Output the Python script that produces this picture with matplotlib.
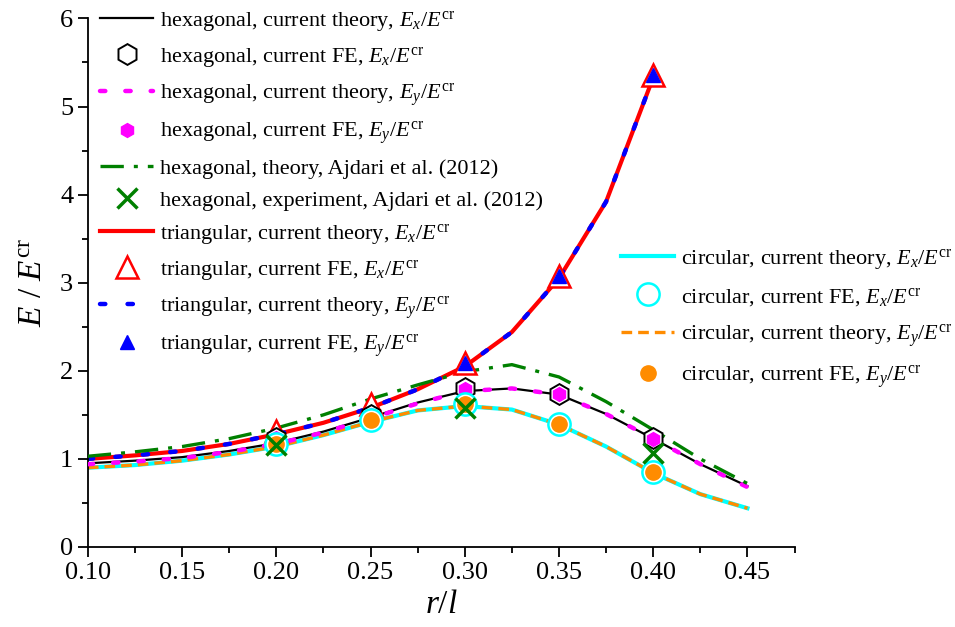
import matplotlib
matplotlib.use("Agg")
import matplotlib.pyplot as plt
import numpy as np

plt.rcParams['font.family'] = ['Liberation Serif', 'DejaVu Serif']
plt.rcParams['mathtext.fontset'] = 'custom'
plt.rcParams['mathtext.rm'] = 'Liberation Serif'
plt.rcParams['mathtext.it'] = 'Liberation Serif:italic'

# r/l grid of the theory curves
r_th = [0.10, 0.125, 0.15, 0.175, 0.20, 0.225, 0.25, 0.275, 0.30, 0.325, 0.35, 0.375, 0.40, 0.425, 0.45]
r_tri = r_th[:13]
r_fe = [0.20, 0.25, 0.30, 0.35, 0.40]

# hexagonal
hex_th_x = [0.95, 0.98, 1.02, 1.09, 1.18, 1.31, 1.47, 1.64, 1.77, 1.80, 1.73, 1.51, 1.23, 0.94, 0.69]
hex_th_y = [0.94, 0.97, 1.01, 1.08, 1.17, 1.30, 1.46, 1.63, 1.77, 1.80, 1.73, 1.51, 1.23, 0.94, 0.68]
hex_fe_x = [1.24, 1.50, 1.80, 1.74, 1.24]
hex_fe_y = [1.24, 1.50, 1.79, 1.74, 1.23]
ajdari_th = [1.03, 1.08, 1.14, 1.23, 1.35, 1.50, 1.68, 1.84, 1.99, 2.07, 1.93, 1.65, 1.33, 1.00, 0.72]
r_exp = [0.20, 0.30, 0.40]
ajdari_exp = [1.16, 1.58, 1.07]

# triangular
tri_th_x = [1.00, 1.04, 1.09, 1.17, 1.28, 1.41, 1.58, 1.79, 2.05, 2.44, 3.05, 3.92, 5.33]
tri_th_y = [1.00, 1.04, 1.09, 1.17, 1.28, 1.41, 1.58, 1.79, 2.05, 2.44, 3.05, 3.92, 5.33]
tri_fe_x = [1.32, 1.62, 2.09, 3.08, 5.36]
r_fe_tri_y = [0.30, 0.35, 0.40]
tri_fe_y = [2.09, 3.08, 5.36]

# circular
circ_th_x = [0.90, 0.93, 0.98, 1.05, 1.14, 1.27, 1.42, 1.55, 1.60, 1.56, 1.39, 1.14, 0.84, 0.60, 0.44]
circ_th_y = [0.90, 0.93, 0.98, 1.05, 1.14, 1.27, 1.42, 1.55, 1.60, 1.56, 1.39, 1.14, 0.84, 0.60, 0.44]
circ_fe_x = [1.17, 1.44, 1.62, 1.40, 0.85]
circ_fe_y = [1.17, 1.44, 1.62, 1.40, 0.85]

EX = r'$E_x/E^{\mathrm{cr}}$'
EY = r'$E_y/E^{\mathrm{cr}}$'

fig = plt.figure(figsize=(9.55, 6.27), dpi=100)
ax = fig.add_axes([0.092, 0.1276, 0.740, 0.843])

h = []
h += ax.plot(r_th, hex_th_x, color='black', lw=1.6, zorder=3,
             label='hexagonal, current theory, ' + EX)
h += ax.plot(r_fe, hex_fe_x, ls='none', marker='h', ms=15, mfc='white', mec='black', mew=1.4, zorder=5,
             label='hexagonal, current FE, ' + EX)
h += ax.plot(r_th, hex_th_y, color='magenta', lw=3.2, ls=(0, (1.2, 4.5)), dash_capstyle='round', zorder=3,
             label='hexagonal, current theory, ' + EY)
h += ax.plot(r_fe, hex_fe_y, ls='none', marker='h', ms=10, mfc='magenta', mec='magenta', zorder=6,
             label='hexagonal, current FE, ' + EY)
h += ax.plot(r_th, ajdari_th, color='green', lw=2.4, ls=(0, (7, 3, 1.2, 3)), zorder=3,
             label='hexagonal, theory, Ajdari et al. (2012)')
h += ax.plot(r_exp, ajdari_exp, ls='none', marker='x', ms=14, mec='green', mew=2.5, zorder=8,
             label='hexagonal, experiment, Ajdari et al. (2012)')
h += ax.plot(r_tri, tri_th_x, color='red', lw=3.0, zorder=2,
             label='triangular, current theory, ' + EX)
h += ax.plot(r_fe, tri_fe_x, ls='none', marker='^', ms=16, mfc='white', mec='red', mew=1.8, zorder=4,
             label='triangular, current FE, ' + EX)
h += ax.plot(r_tri, tri_th_y, color='blue', lw=3.2, ls=(0, (1.2, 5)), dash_capstyle='round', zorder=2.5,
             label='triangular, current theory, ' + EY)
h += ax.plot(r_fe_tri_y, tri_fe_y, ls='none', marker='^', ms=10, mfc='blue', mec='blue', zorder=4.5,
             label='triangular, current FE, ' + EY)

c = []
c += ax.plot(r_th, circ_th_x, color='cyan', lw=3.0, zorder=2,
             label='circular, current theory, ' + EX)
c += ax.plot(r_fe, circ_fe_x, ls='none', marker='o', ms=16, mfc='white', mec='cyan', mew=1.8, zorder=6.5,
             label='circular, current FE, ' + EX)
c += ax.plot(r_th, circ_th_y, color='darkorange', lw=2.4, ls=(0, (3.2, 1.8)), zorder=2.2,
             label='circular, current theory, ' + EY)
c += ax.plot(r_fe, circ_fe_y, ls='none', marker='o', ms=11, mfc='darkorange', mec='darkorange', zorder=7,
             label='circular, current FE, ' + EY)

leg_kw = dict(bbox_transform=fig.transFigure, loc='upper left', frameon=False, fontsize=16,
              borderpad=0, borderaxespad=0, handlelength=2.4, handletextpad=0.3, numpoints=1)
leg1 = ax.legend(handles=h, bbox_to_anchor=(100 / 955, 1 - 9 / 627), labelspacing=0.5, **leg_kw)
ax.add_artist(leg1)
ax.legend(handles=c, bbox_to_anchor=(621 / 955, 1 - 247 / 627), labelspacing=0.62, **leg_kw)

ax.set_xlim(0.10, 0.475)
ax.set_ylim(0, 6)
ax.set_xticks(np.arange(0.10, 0.451, 0.05))
ax.set_xticks(np.arange(0.125, 0.48, 0.05), minor=True)
ax.set_yticks(range(0, 7))
ax.set_yticks(np.arange(0.5, 6, 1.0), minor=True)
ax.set_xticklabels(['%.2f' % v for v in np.arange(0.10, 0.451, 0.05)])
ax.tick_params(which='major', direction='out', length=7, width=1.3, labelsize=19)
ax.tick_params(which='minor', direction='out', length=4, width=1.3)
ax.spines['top'].set_visible(False)
ax.spines['right'].set_visible(False)
for s in ('left', 'bottom'):
    ax.spines[s].set_linewidth(1.3)

ax.set_xlabel(r'$r/l$', fontsize=24, labelpad=4)
ax.set_ylabel(r'$E$ / $E^{\mathrm{cr}}$', fontsize=24, labelpad=8)

plt.savefig('out.png', dpi=100)
